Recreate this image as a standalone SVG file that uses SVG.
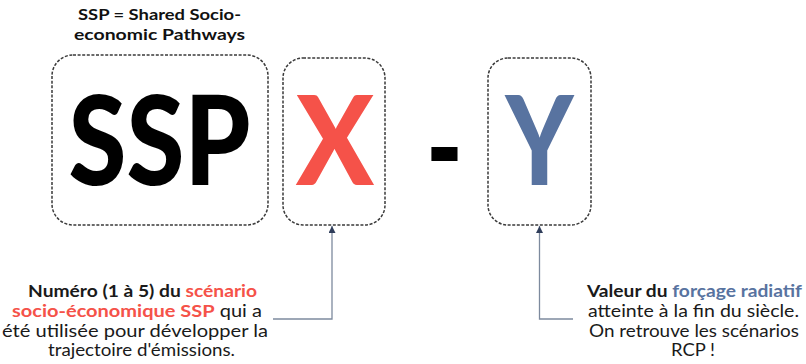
<svg xmlns="http://www.w3.org/2000/svg" width="806" height="364" viewBox="0 0 806 364">
<style>
.box{fill:none;stroke:#3a3a3a;stroke-width:1.5;stroke-dasharray:3 1.6}
.big{font-family:Lato,"Liberation Sans",sans-serif;font-weight:900;font-size:123px;text-anchor:middle}
.title{font-family:Lato,"Liberation Sans",sans-serif;font-weight:700;font-size:15.5px;fill:#111;text-anchor:middle}
.body{font-family:Lato,"Liberation Sans",sans-serif;font-size:17px;fill:#1a1a1a;text-anchor:middle}
.b{font-weight:700}
.red{fill:#F55249;font-weight:700}
.blue{fill:#5873A0;font-weight:700}
.conn{fill:none;stroke:#7d8a9e;stroke-width:1.3}
</style>
<defs>
<marker id="ah" viewBox="0 0 10 10" refX="10" refY="5" markerWidth="7" markerHeight="7" markerUnits="userSpaceOnUse" orient="auto">
<path d="M0,0 L10,5 L0,10 z" fill="#2f3d5a"/>
</marker>
</defs>
<rect width="806" height="364" fill="#fff"/>
<g id="title">
<text class="title" x="159.5" y="20" textLength="163" lengthAdjust="spacingAndGlyphs">SSP = Shared Socio-</text>
<text class="title" x="159.5" y="40" textLength="171" lengthAdjust="spacingAndGlyphs">economic Pathways</text>
</g>
<g id="node-ssp">
<rect class="box" x="52" y="55" width="216" height="170" rx="21"/>
<text class="big" x="159.5" y="185" fill="#000" textLength="182" lengthAdjust="spacingAndGlyphs">SSP</text>
</g>
<g id="node-x">
<rect class="box" x="283" y="58" width="102" height="167" rx="20"/>
<text class="big" x="335" y="185" fill="#F55249" textLength="78" lengthAdjust="spacingAndGlyphs">X</text>
</g>
<g id="dash">
<text class="big" x="444.5" y="192" fill="#000" font-size="145" textLength="37" lengthAdjust="spacingAndGlyphs">-</text>
</g>
<g id="node-y">
<rect class="box" x="488" y="58" width="103" height="167" rx="20"/>
<text class="big" x="539.5" y="185" fill="#5873A0" textLength="68" lengthAdjust="spacingAndGlyphs">Y</text>
</g>
<g id="connectors">
<polyline class="conn" points="273,319 332,319 332,226" marker-end="url(#ah)"/>
<polyline class="conn" points="573,319 539.5,319 539.5,226" marker-end="url(#ah)"/>
</g>
<g id="note-x">
<text class="body" x="142.5" y="297" textLength="229" lengthAdjust="spacingAndGlyphs"><tspan class="b">Numéro (1 à 5) du </tspan><tspan class="red">scénario</tspan></text>
<text class="body" x="137" y="317" textLength="250" lengthAdjust="spacingAndGlyphs"><tspan class="red">socio-économique SSP</tspan> qui a</text>
<text class="body" x="135" y="337" textLength="266" lengthAdjust="spacingAndGlyphs">été utilisée pour développer la</text>
<text class="body" x="141.5" y="356" textLength="187" lengthAdjust="spacingAndGlyphs">trajectoire d'émissions.</text>
</g>
<g id="note-y">
<text class="body" x="694.5" y="297" textLength="215" lengthAdjust="spacingAndGlyphs"><tspan class="b">Valeur du </tspan><tspan class="blue">forçage radiatif</tspan></text>
<text class="body" x="693.5" y="317" textLength="211" lengthAdjust="spacingAndGlyphs">atteinte à la fin du siècle.</text>
<text class="body" x="694" y="337" textLength="210" lengthAdjust="spacingAndGlyphs">On retrouve les scénarios</text>
<text class="body" x="693" y="356" textLength="44" lengthAdjust="spacingAndGlyphs">RCP !</text>
</g>
</svg>
